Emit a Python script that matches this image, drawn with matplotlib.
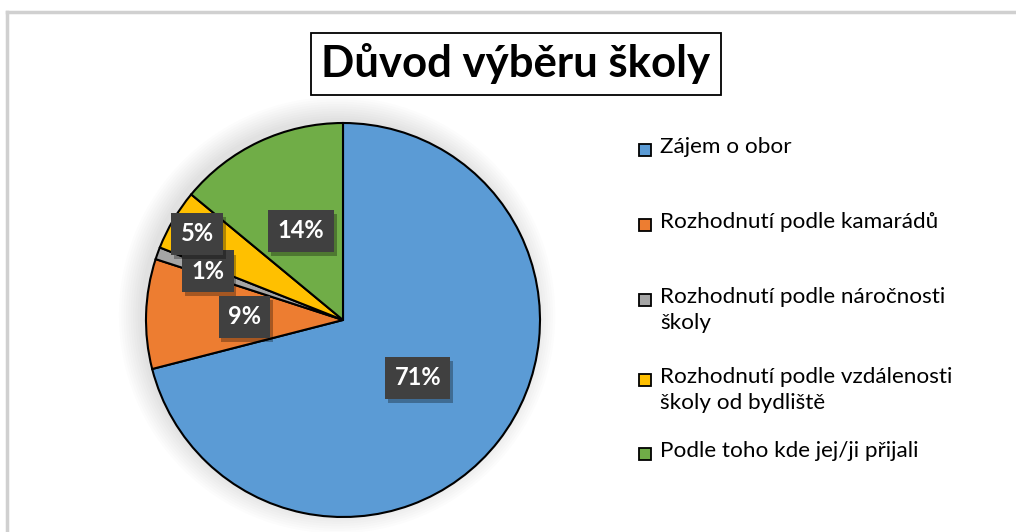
import matplotlib.pyplot as plt
from matplotlib.patches import Circle, Rectangle
import matplotlib.patheffects as pe
import numpy as np

plt.rcParams['font.family'] = ['Lato', 'Open Sans', 'DejaVu Sans']

# Data
categories = ["Zájem o obor",
              "Rozhodnutí podle kamarádů",
              "Rozhodnutí podle náročnosti\nškoly",
              "Rozhodnutí podle vzdálenosti\nškoly od bydliště",
              "Podle toho kde jej/ji přijali"]
values = [71, 9, 1, 5, 14]
colors = ['#5b9bd5', '#ed7d31', '#a5a5a5', '#ffc000', '#70ad47']
# label distance from center (fraction of radius) per slice
label_r = [0.48, 0.50, 0.73, 0.86, 0.50]

fig = plt.figure(figsize=(10.16, 5.32), dpi=100)

# Chart border (light gray)
fig.add_artist(plt.Line2D([7/1016, 7/1016], [0, 1 - 12/532], color='#d0d0d0', lw=2.5))
fig.add_artist(plt.Line2D([7/1016, 1], [1 - 12/532, 1 - 12/532], color='#d0d0d0', lw=2.5))

# Pie axes: center (343, 320) px, radius 197 px
cx, cy, r = 343, 320, 197
ax = fig.add_axes([(cx - r) / 1016, (532 - cy - r) / 532, 2 * r / 1016, 2 * r / 532])
ax.axis('off')

# soft shadow
for k in range(10):
    ax.add_patch(Circle((-0.03, 0.025), 1.0 + 0.012 * k, color='#000000',
                        alpha=0.012, lw=0, zorder=0, clip_on=False))

wedges, _ = ax.pie(values, colors=colors, startangle=90, counterclock=False,
                   radius=1, wedgeprops=dict(edgecolor='black', linewidth=1.5))
for w in wedges:
    w.set_zorder(2)
    w.set_clip_on(False)
ax.set_xlim(-1, 1)
ax.set_ylim(-1, 1)

# Data labels
for w, v, lr in zip(wedges, values, label_r):
    ang = np.deg2rad((w.theta1 + w.theta2) / 2)
    x, y = lr * np.cos(ang), lr * np.sin(ang)
    t = ax.text(x, y, f"{v}%", ha='center', va='center', fontsize=17,
                fontweight='bold', color='white', zorder=4,
                bbox=dict(boxstyle='square,pad=0.4', fc='#404040', ec='none'))
    t.get_bbox_patch().set_path_effects([
        pe.SimplePatchShadow(offset=(2, -3), shadow_rgbFace='#000000', alpha=0.3),
        pe.Normal()])

# Title with box
fig.text(516 / 1016, 1 - 64 / 532, "Důvod výběru školy", ha='center', va='center',
         fontsize=31.5, fontweight='bold', color='black',
         bbox=dict(boxstyle='square,pad=0.24', fc='white', ec='black', lw=1.3))

# Legend
leg_y = [150, 225, 300, 380, 454]
for lab, c, y in zip(categories, colors, leg_y):
    fig.add_artist(Rectangle((639 / 1016, 1 - (y + 6) / 532), 12 / 1016, 12 / 532,
                             fc=c, ec='black', lw=1.3, transform=fig.transFigure))
    fig.text(660 / 1016, 1 - (y - 13) / 532, lab, ha='left', va='top', fontsize=16.2,
             color='#000000', linespacing=1.4)

plt.savefig('out.png', dpi=100)
